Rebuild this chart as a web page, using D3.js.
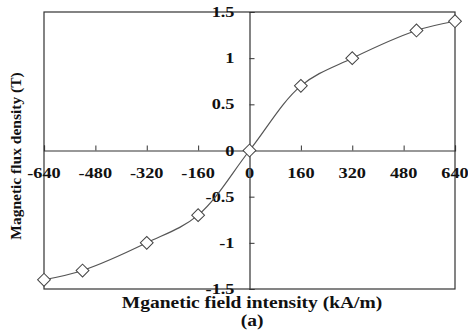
<!DOCTYPE html>
<html>
<head>
<meta charset="utf-8">
<script src="https://cdn.jsdelivr.net/npm/d3@7"></script>
<style>
  body { margin: 0; background: #fff; }
  svg text { font-family: "Liberation Serif", "Times New Roman", serif; font-weight: bold; fill: #111; }
</style>
</head>
<body>
<div id="chart"></div>
<script>
// data
const fieldH = [-640, -520, -320, -160, 0, 160, 320, 520, 640];
const fluxB = [-1.4, -1.3, -1.0, -0.7, 0, 0.7, 1.0, 1.3, 1.4];
const xTicks = [-640, -480, -320, -160, 0, 160, 320, 480, 640];
const yTicks = [-1.5, -1, -0.5, 0, 0.5, 1, 1.5];

const width = 468, height = 331;
const margin = { left: 44, right: 13, top: 12, bottom: 42 };
const stretch = 1.22; // the source image is stretched horizontally

const svg = d3.select("#chart").append("svg")
  .attr("width", width)
  .attr("height", height);

const x = d3.scaleLinear().domain([-640, 640]).range([margin.left, width - margin.right]);
const y = d3.scaleLinear().domain([-1.5, 1.5]).range([height - margin.bottom, margin.top]);

// plot frame
svg.append("rect")
  .attr("x", x(-640)).attr("y", y(1.5))
  .attr("width", x(640) - x(-640)).attr("height", y(-1.5) - y(1.5))
  .attr("fill", "none").attr("stroke", "#333").attr("stroke-width", 1.2);

// x axis through zero, ticks pointing up
const xAxis = svg.append("g")
  .attr("transform", `translate(0,${y(0)})`)
  .call(d3.axisTop(x).tickValues(xTicks).tickSize(5).tickFormat(""));
xAxis.select(".domain").attr("stroke", "#333").attr("stroke-width", 1.2);
xAxis.selectAll(".tick line").attr("stroke", "#333");

svg.append("g").selectAll("text")
  .data(xTicks)
  .join("text")
  .attr("transform", d => `translate(${x(d)},${y(0) + 27}) scale(${stretch},1)`)
  .attr("text-anchor", "middle")
  .style("font-size", "15px")
  .text(d => d);

// y axis through zero, ticks pointing right, labels to the left
const yAxis = svg.append("g")
  .attr("transform", `translate(${x(0)},0)`)
  .call(d3.axisRight(y).tickValues(yTicks).tickSize(5).tickFormat(""));
yAxis.select(".domain").attr("stroke", "#333").attr("stroke-width", 1.2);
yAxis.selectAll(".tick line").attr("stroke", "#333");

svg.append("g").selectAll("text")
  .data(yTicks)
  .join("text")
  .attr("transform", d => `translate(${x(0) - 15},${y(d) + 5}) scale(${stretch},1)`)
  .attr("text-anchor", "end")
  .style("font-size", "15px")
  .text(d => d);

// curve
const pts = fieldH.map((h, i) => [h, fluxB[i]]);
const line = d3.line()
  .x(d => x(d[0]))
  .y(d => y(d[1]))
  .curve(d3.curveCatmullRom.alpha(0.5));

svg.append("path")
  .datum(pts)
  .attr("d", line)
  .attr("fill", "none")
  .attr("stroke", "#555")
  .attr("stroke-width", 1.2);

// diamond markers
svg.append("g").selectAll("path")
  .data(pts)
  .join("path")
  .attr("transform", d => `translate(${x(d[0])},${y(d[1])}) rotate(45)`)
  .attr("d", d3.symbol().type(d3.symbolSquare).size(82))
  .attr("fill", "#fff")
  .attr("stroke", "#444")
  .attr("stroke-width", 1);

// axis titles
svg.append("text")
  .attr("transform", `translate(21,156) rotate(-90)`)
  .attr("text-anchor", "middle")
  .style("font-size", "15.5px")
  .text("Magnetic flux density (T)");

svg.append("text")
  .attr("transform", `translate(252,308) scale(${stretch},1)`)
  .attr("text-anchor", "middle")
  .style("font-size", "16px")
  .text("Mganetic field intensity (kA/m)");

svg.append("text")
  .attr("transform", `translate(252,326) scale(${stretch},1)`)
  .attr("text-anchor", "middle")
  .style("font-size", "16px")
  .text("(a)");
</script>
</body>
</html>
